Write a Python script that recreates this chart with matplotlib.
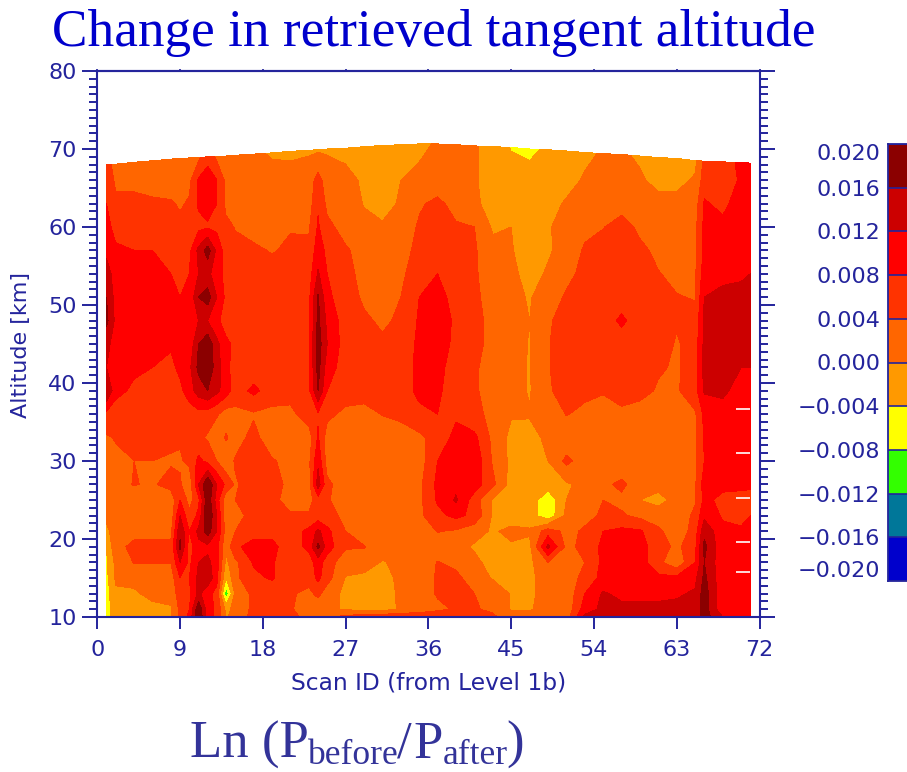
import numpy as np
import matplotlib
matplotlib.use("Agg")
import matplotlib.pyplot as plt
from matplotlib.colors import ListedColormap, BoundaryNorm
from matplotlib.ticker import MultipleLocator

NAVY = '#24249c'

scan = [1,2,4,6,8,9,10,11,12,13,14,15,17,19,21,23,24,25,27,29,31,33,35,37,39,41,43,45,47,49,51,53,55,57,59,61,63,65,66,68,70,71]
top_alt = [68.0,68.05,68.3,68.5,68.7,68.8,68.85,68.9,69,69.05,69.1,69.2,69.35,69.5,69.7,69.85,69.9,70,70.1,70.3,70.45,70.55,70.65,70.65,70.55,70.4,70.3,70.2,70.0,69.9,69.75,69.55,69.4,69.3,69.1,68.9,68.8,68.5,68.45,68.35,68.25,68.2]
levels_alt = [10,11,13,15,17,19,21,23,25,27,30,33,36,39,42,45,48,51,54,57,60,63,66]

# values in units of 0.001, one list per altitude, same order as `scan`
a10 = [-6,-1,-1,-1,-.5,5,9,20,10,7, -.5,2,5,5,5,3,3,4,5,7, 7,7,8,8,7,6,5,1,2,2, 2,13,13,13,13,13,13,13,18,12, 9.5,9.5]
a11 = [-6,-1,-1,-1,-.5,5,8,19,10,7, -1,1,5,5,4.5,1.5,1.5,1,-.5,-1, -1.5,.5,1,3,4.5,4.5,3,-.3,-.5,2, 1,10,13,13,13,13,13,13,18,9, 9.5,9.5]
a13 = [-6,-.5,-.5,1,1.5,6,7,13,9,7, -11,1,5,5,4.5,3,5,2,-1,-1.5, -2,.8,1.5,4.5,5,4,2.5,-.3,-1,2, 1,8,12.5,11,11,11,11.5,12.5,18,9, 9.5,9.5]
a15 = [-5,.5,1,1.5,2,8,8,13,15,9, -4,3,7,8.5,5,5.5,9,5.5,-.2,-1, -1.5,1,1.5,4.5,5,2,-.3,-.3,-1,2, .5,6,9,11,10,9,9,11,17,9, 9.5,9.5]
a17 = [-4.5,1,4.2,4.2,4.1,12,7,12,13,10, -1,3,8.5,8.5,5,6,10,6,1.5,2, -.3,1,1.5,4.2,3,1,-1.5,-.3,-1,4, 2,4,9,10,10,5,1,8,16,9, 9.5,9.5]
a19 = [-4,3,4.8,5,5,17,6,11,11,9, 1,7.5,9,9,6,9,17,10,4.5,4.2, 1.5,1.5,1.5,1.5,1.5,-.5,-1,-.5,-1,13, 3,5,9,10,9.5,6,3,7,17,9, 9.5,9.5]
a21 = [-1,2,3,3,3,15,8,13,18,12, 2,4,7,7,6,9,13,9,4,2, 1,1,1.5,4.2,3.5,1.5,-.5,1,.5,6, 3,4.5,8,9,8.5,5,1,6,15,9, 9,9]
a23 = [1,1,1,1.5,1.5,12,5,9,20,12, 1.5,3,5,5,4.5,4.5,5.5,5.5,3,.5, 1,1,3,7,9,7,-.5,-2,-2,-7, 1,3,4.5,4.5,3,1.5,1,5,11,7.5, 6,8]
a25 = [2,2,2,1.5,1.5,8,2.5,7,19,10, 1,4,5,5,2.5,2.5,6,4.5,1.5,1, 1,1,3,8.5,12.5,6,-.5,-1.5,-1.5,-7, 0,1,4,3,0,-1,1,3.5,9,7, 6.5,6]
a27 = [2.5,2.5,4.2,3.5,5.5,4.5,1,12,20,12, 7,3.5,6,5.5,3,2.5,14,5,1.5,1, 1,1,3,9,11,10,5,-1.5,-1.5,-2, -.5,1,3,5,1.5,1,1,3.5,10,9, 9,9]
a30 = [3,3,4,4,3.5,3.5,5,9,7,4, 1,4.5,4.5,4.5,2.5,3,11,2,1,1, 1,1,2,8,11,11,3.5,-1,-.8,0, 5,2,.5,.5,1,.5,1,3,8,8, 9,9]
a33 = [3.5,4.3,5.5,5.5,5,4.5,4.5,5,3.5,1, 4.5,2,5.5,1,1,2,8.5,2,1,.5, 1,1,3,6,9,9,3,-1,-.8,.5, 1,1,.8,1,1,1,1,3,8.5,10, 10,10]
a36 = [7,5.5,6,5.5,6,5.5,6,6.5,6,4.5, 2,3,3.5,3,3,6,7.5,5,3,2, 4.2,5.5,7.5,8,7.5,5,3,.3,.2,1, 4.2,3,1.5,3,2,1,1,3.5,9,10, 10,10]
a39 = [16,9.5,7,6.5,7,7,10,14,16,13, 10,6,9,6,5.5,7,16,8,6,6.5, 6,7,8.5,8.5,6.5,4.5,2.5,1.5,-.3,3.5, 5.5,5,4.5,6,5.5,3.5,3.5,6.5,12.5,13, 10,10]
a42 = [12,10,9,8,7,9,11,17,19,14, 9,6.5,5.5,6,6,7.5,17.5,10,6,5, 5,6,9,9,6.5,4.5,2.5,1.5,-.3,3.8, 5.5,6,6.5,7,6.5,4.5,3.5,6,13.5,14, 12,12]
a45 = [13,10.5,9.5,9.5,8.5,8,9,16,19,13, 9,7,5.5,6,6,7.5,18,12,6,4.5, 4.5,5,9,10,7,5,3,1.5,-.2,3.8, 5.5,6.5,7.5,7.5,7.2,6.5,3.5,6,13,13.5, 14,14]
a48 = [17,11,10.5,10,9,8.5,8.5,12,12,9, 6,5,8,6,5.5,7.5,17,11,6,4.5, 3.5,4.5,8.5,9.5,7.5,5,3,1,0,3.5, 5.5,6.5,7.5,8.2,7.5,6.5,4.5,5,13,14, 14,14]
a51 = [16,10.5,10,10,9.5,8,8.5,16,18,12, 7,5.5,5.5,5.5,5.5,7,16.5,9,5.5,3.5, 2,4,8,9,7,4.5,3,1,-.3,2, 4.5,6,7,7.5,7,6,4.2,3.8,12,13, 13,13]
a54 = [14,10,9.5,9.5,8,7,8,12,13,10, 6.5,5.5,5.5,5,5,6,12.5,8,5,3, 2,3,6.8,8,6,4.5,2,1,-1.5,.5, 3,5,6.5,6.8,6,4.2,3,3.5,10,11, 11.5,12]
a57 = [11,8.5,8,8,6,5.5,7,13,18,11, 6,5,4.5,3.8,4.5,5,10,7,4.5,2.5, 1.5,2,5.5,6.5,6,4.5,1,.3,-2,-.5, 1.5,4.5,6,6.5,5,3,2,3,9,9.5, 10.5,11]
a60 = [9,7,6.5,6,5.5,5,6,7,7.5,7, 5,3.8,3,2,3.8,3.5,8.5,5,2.5,1, .5,1.5,4.5,5.5,4.5,4,-.5,0,-2.5,-.5, 2,3,3.8,6,3,2,2,3,9,9, 10,11]
a63 = [8,5,5,5,4.5,3.5,4.5,8.5,9.5,8, 3,2,1.5,1,1,2,7.5,3,2,-.2, -1.5,.5,3.5,5,2.5,.5,-1,-2,-3,-1.5, .5,1,1.5,2,1.5,1,1,2,8.5,7, 10,10]
a66 = [8,3,3,1.5,1.5,2,3,8.5,9.5,8, 3,2,1.5,1,1,2,5.5,2,1,-.5, -1,0,1,1.5,1.5,.5,-2,-2.5,-3,-2.5, -1.5,.5,1,1,.5,-1,-1,.5,6,6, 8.5,9]
atop = [6,2,2,2,2,2,2,3,7,3, 1.5,1,.5,-.3,-.5,-.5,-.5,-.5,-1,-1.5, -1.5,-1.5,-1,.5,1,.5,-2,-4.2,-4.6,-3.5, -2,-1,.5,.5,-.5,-1,-1,-1,5,6, 9,9]

rows = [a10,a11,a13,a15,a17,a19,a21,a23,a25,a27,a30,a33,a36,a39,a42,a45,a48,a51,a54,a57,a60,a63,a66,atop]

band_edges = [-0.020,-0.016,-0.012,-0.008,-0.004,0.000,0.004,0.008,0.012,0.016,0.020]
band_colors = ['#0000cc','#007799','#33ff00','#ffff00','#ff9900','#ff6600','#ff3300','#ff0000','#cc0000','#8b0000']
bar_labels = ['\u22120.020','\u22120.016','\u22120.012','\u22120.008','\u22120.004','0.000','0.004','0.008','0.012','0.016','0.020']
white_marks = [36.7,31.0,25.3,19.6,15.8]

Z = np.array(rows)*0.001
X = np.tile(np.array(scan,float),(len(rows),1))
Y = np.vstack([np.full((len(levels_alt),len(scan)),0.0)+np.array(levels_alt,float)[:,None], np.array(top_alt)])

W,H = 907,772
fig = plt.figure(figsize=(9.07,7.72),dpi=100)
L,R,T,B = 97.3,759.5,71,617
ax = fig.add_axes([L/W,1-B/H,(R-L)/W,(B-T)/H])
cmap = ListedColormap(band_colors)
norm = BoundaryNorm(band_edges,cmap.N)
ax.contourf(X,Y,Z,levels=band_edges,cmap=cmap,norm=norm,extend='both')
ax.hlines(white_marks,69.4,71,color='white',lw=1.2)
ax.set_xlim(0,72); ax.set_ylim(10,80)
ax.xaxis.set_major_locator(MultipleLocator(9))
ax.yaxis.set_major_locator(MultipleLocator(10))
ax.yaxis.set_minor_locator(MultipleLocator(1))
ax.tick_params(axis='y',which='major',left=True,right=True,length=10.5,width=1.4,color=NAVY,labelcolor=NAVY,labelsize=16,pad=4.5)
ax.tick_params(axis='y',which='minor',left=True,right=True,length=6,width=1.4,color=NAVY)
ax.tick_params(axis='x',which='major',length=8.5,width=1.4,color=NAVY,labelcolor=NAVY,labelsize=16,pad=8)
for s in ax.spines.values():
    s.set_color(NAVY); s.set_linewidth(1.5)
sec = ax.secondary_xaxis('top')
sec.xaxis.set_major_locator(MultipleLocator(9))
sec.tick_params(length=1.5,width=1.2,color=NAVY,labeltop=False)
sec.spines['top'].set_color(NAVY); sec.spines['top'].set_linewidth(1.5)
ax.set_yticks([10,20,30,40,50,60,70,80])
for t in ax.yaxis.get_major_ticks():
    v = t.get_loc()
    if v==80: t.label1.set_verticalalignment('top')
    if v==10: t.label1.set_verticalalignment('bottom')
ax.set_xlabel('Scan ID (from Level 1b)',color=NAVY,fontsize=16.8,labelpad=8)
ax.set_ylabel('Altitude [km]',color=NAVY,fontsize=16)
ax.yaxis.set_label_coords((31-L)/(R-L),(B-345)/(B-T))

# colour bar
cax = fig.add_axes([888/W,1-581/H,30/W,437/H])
cax.pcolormesh([0,1],band_edges,np.array(band_edges[:-1])[:,None]+0.002,cmap=cmap,norm=norm,edgecolors='none')
cax.hlines(band_edges,0,1,color=NAVY,lw=1.2)
cax.set_xticks([]); cax.set_ylim(-0.020,0.020)
cax.set_yticks(band_edges,bar_labels)
cax.tick_params(axis='y',length=0,labelcolor=NAVY,labelsize=16,pad=5.5)
for t in cax.yaxis.get_major_ticks():
    v = t.get_loc()
    if v>0.0199: t.label1.set_verticalalignment('top')
    if v<-0.0199: t.label1.set_verticalalignment('bottom')
for s in cax.spines.values():
    s.set_color(NAVY); s.set_linewidth(1.3)

fig.text(434/W,1-46/H,'Change in retrieved tangent altitude',family='Liberation Serif',fontsize=38.3,color='#0000cc',ha='center',va='baseline')
# caption pieces: (text, left edge px, baseline px, size)
caption = [('Ln (P',190,758,38),('before',308,764,25.5),('/',397,758,38),('P',413,758,38),('after',443,764,25.5),(')',506,758,38)]
for txt,xp,yp,fs in caption:
    fig.text(xp/W,1-yp/H,txt,family='Liberation Serif',fontsize=fs,color='#333399',ha='left',va='baseline')
fig.savefig('out.png',dpi=100)
